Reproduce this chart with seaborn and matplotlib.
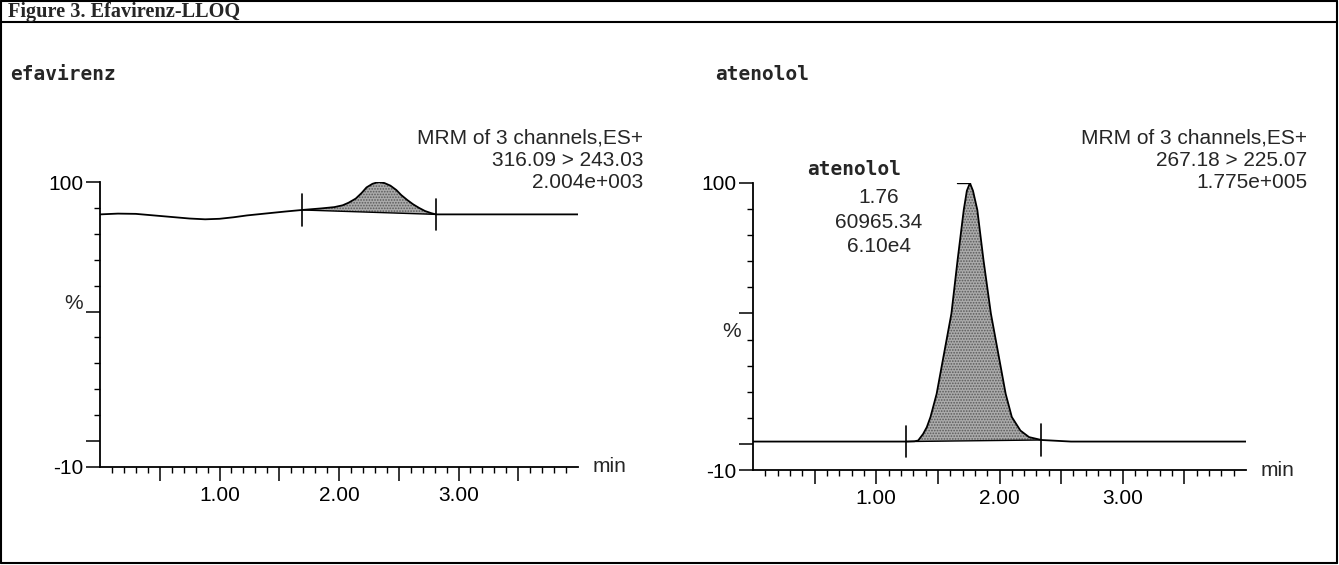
import numpy as np
import matplotlib
matplotlib.use('Agg')
import matplotlib.pyplot as plt
from matplotlib.lines import Line2D
import seaborn as sns

# efavirenz trace (time in min, % of full scale)
efv_time = [0.00, 0.15, 0.30, 0.45, 0.60, 0.75, 0.88, 1.00, 1.12, 1.23, 1.40, 1.55, 1.69,
            1.85, 1.96, 2.03, 2.08, 2.14, 2.19, 2.23, 2.28, 2.33, 2.38, 2.43, 2.48, 2.52,
            2.57, 2.62, 2.67, 2.72, 2.77, 2.81, 3.20, 4.00]
efv_pct = [87.5, 87.8, 87.7, 87.1, 86.5, 85.9, 85.6, 85.8, 86.4, 87.1, 87.9, 88.6, 89.2,
           89.8, 90.3, 91.0, 92.0, 93.6, 95.8, 97.9, 99.3, 100.0, 99.6, 98.6, 96.9, 95.0,
           93.1, 91.4, 90.0, 88.8, 88.0, 87.5, 87.5, 87.5]
efv_int = [1.69, 2.81]          # integration start / end
efv_base = [89.2, 87.5]         # baseline % at those times

# atenolol trace
ate_time = [0.00, 0.60, 1.24, 1.31, 1.34, 1.38, 1.41, 1.44, 1.49, 1.53, 1.61, 1.66, 1.71, 1.735,
            1.76, 1.785, 1.82, 1.87, 1.93, 2.01, 2.05, 2.10, 2.17, 2.24, 2.34, 2.58, 4.00]
ate_pct = [0.9, 0.9, 0.9, 1.0, 1.3, 3.8, 6.4, 10.3, 19.2, 29.5, 50.0, 70.5, 89.7, 97.0,
           100.0, 97.0, 89.7, 70.5, 50.0, 29.5, 19.2, 10.3, 5.1, 2.6, 1.5, 0.9, 0.9]
ate_int = [1.24, 2.34]
ate_base = [0.9, 1.5]

panel_titles = ['efavirenz', 'atenolol']
mrm_lines = [['MRM of 3 channels,ES+', '316.09 > 243.03', '2.004e+003'],
             ['MRM of 3 channels,ES+', '267.18 > 225.07', '1.775e+005']]
peak_label = ['atenolol', '1.76', '60965.34', '6.10e4']

sns.set_theme(style='white')
plt.rcParams['font.family'] = ['Liberation Sans', 'DejaVu Sans']
plt.rcParams['hatch.color'] = '#555555'
plt.rcParams['hatch.linewidth'] = 0.8

W, H = 1339, 565
fig = plt.figure(figsize=(W / 100, H / 100), dpi=100)


def fx(px):
    return px / W


def fy(py):
    return 1 - py / H


# frame and header
for (x0, y0, x1, y1) in [(1, 1, 1337, 1), (1, 563, 1337, 563), (1, 1, 1, 563),
                         (1337, 1, 1337, 563), (1, 22, 1337, 22)]:
    fig.add_artist(Line2D([fx(x0), fx(x1)], [fy(y0), fy(y1)], color='black', lw=1.5))
fig.text(fx(8), fy(12), 'Figure 3. Efavirenz-LLOQ', family='Liberation Serif',
         weight='bold', fontsize=14.6, va='center', ha='left')

panels = [
    dict(rect=(100, 182, 578, 467), t=efv_time, v=efv_pct, it=efv_int, ib=efv_base,
         title_x=10, mrm_x=643, pct_x=-0.035, pct_v=53),
    dict(rect=(753, 183, 1246, 470), t=ate_time, v=ate_pct, it=ate_int, ib=ate_base,
         title_x=715, mrm_x=1307, pct_x=-0.025, pct_v=43),
]

for i, p in enumerate(panels):
    x0, y0, x1, y1 = p['rect']
    ax = fig.add_axes([fx(x0), fy(y1), (x1 - x0) / W, (y1 - y0) / H])
    ax.set_xlim(0, 4.0)
    ax.set_ylim(-10, 100)
    ax.patch.set_alpha(0)
    for s in ['top', 'right']:
        ax.spines[s].set_visible(False)
    for s in ['left', 'bottom']:
        ax.spines[s].set_color('black')
        ax.spines[s].set_linewidth(1.3)

    t = np.array(p['t'])
    v = np.array(p['v'])
    sns.lineplot(x=t, y=v, ax=ax, color='black', lw=1.3, sort=False, estimator=None)

    # integrated peak area
    m = (t >= p['it'][0]) & (t <= p['it'][1])
    base = np.interp(t[m], p['it'], p['ib'])
    ax.fill_between(t[m], base, v[m], facecolor='#ababab', hatch='......',
                    edgecolor='#5a5a5a', lw=0)
    ax.plot(p['it'], p['ib'], color='black', lw=1.0)
    for tt, bb in zip(p['it'], p['ib']):
        ax.plot([tt, tt], [bb - 6, bb + 6], color='black', lw=1.2)

    # ticks
    majors = np.arange(0.5, 4.0, 0.5)
    ax.set_xticks(majors)
    ax.set_xticklabels(['' if abs(k - round(k)) > 0.01 else f'{k:.2f}' for k in majors])
    ax.set_xticks(np.arange(0.1, 4.0, 0.1), minor=True)
    ax.set_yticks([-10, 0, 50, 100])
    ax.set_yticklabels(['-10', '', '', '100'])
    ax.set_yticks(np.arange(-10, 101, 10), minor=True)
    ax.tick_params(axis='both', which='major', direction='out', length=10, width=1.1,
                   color='black', labelsize=15, labelcolor='black', bottom=True, left=True)
    ax.tick_params(axis='both', which='minor', direction='out', length=4, width=1.0,
                   color='black', bottom=True, left=True)
    ax.tick_params(axis='x', which='major', pad=4)
    ax.tick_params(axis='y', which='major', pad=2)
    ax.grid(False)

    ax.text(p['pct_x'], p['pct_v'], '%', transform=ax.get_yaxis_transform(), fontsize=15,
            ha='right', va='center')
    ax.text(1.03, -10, 'min', transform=ax.get_yaxis_transform(), fontsize=15,
            ha='left', va='center')

    fig.text(fx(p['title_x']), fy(75), panel_titles[i], family='DejaVu Sans Mono',
             weight='bold', fontsize=14, ha='left', va='center')
    for k, line in enumerate(mrm_lines[i]):
        fig.text(fx(p['mrm_x']), fy(138 + 22 * k), line, fontsize=15, ha='right', va='center')

    if i == 1:
        ax.plot([1.655, 1.76], [100, 100], color='black', lw=1.0)
        ax.text(0.82, 105, peak_label[0], family='DejaVu Sans Mono', weight='bold',
                fontsize=14, ha='center', va='center')
        for k, line in enumerate(peak_label[1:]):
            ax.text(1.02, 94.5 - 9.5 * k, line, fontsize=15, ha='center', va='center')

fig.savefig('out.png', dpi=100)
